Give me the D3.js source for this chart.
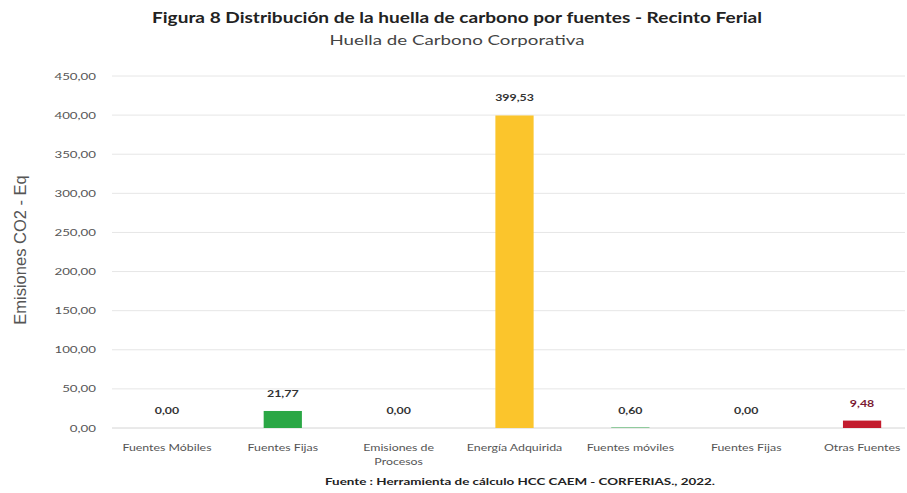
<!DOCTYPE html>
<html><head><meta charset="utf-8">
<script src="https://cdn.jsdelivr.net/npm/d3@7"></script>
<style>body{margin:0;background:#fff;}svg{display:block;}</style>
</head><body>
<svg id="c" width="907" height="493"></svg>
<script>
const categories = [["Fuentes Móbiles"],["Fuentes Fijas"],["Emisiones de","Procesos"],["Energía Adquirida"],["Fuentes móviles"],["Fuentes Fijas"],["Otras Fuentes"]];
const values = [0.00, 21.77, 0.00, 399.53, 0.60, 0.00, 9.48];
const barColors = ["#2aa745","#2aa745","#2aa745","#fbc52c","#2aa745","#2aa745","#c31c2e"];
const labelColors = ["#333","#333","#333","#333","#333","#333","#7a1a33"];
const yTicks = [0,50,100,150,200,250,300,350,400,450];

const svg = d3.select("#c");
const fmt = v => d3.format(".2f")(v).replace(".", ",");
const x = d3.scaleBand().domain(d3.range(values.length)).range([109, 920]).paddingInner(0.67).paddingOuter(0.335);
const y = d3.scaleLinear().domain([0,450]).range([428, 76]);

function stretch(sel, f){
  sel.each(function(){
    const w = this.getComputedTextLength();
    d3.select(this).attr("textLength", w*f).attr("lengthAdjust","spacingAndGlyphs");
  });
}

// gridlines
svg.append("g").selectAll("line").data(yTicks).join("line")
  .attr("x1",112).attr("x2",905).attr("y1",d=>y(d)).attr("y2",d=>y(d))
  .attr("stroke", d=> d===0 ? "#d4d4d4" : "#e6e6e6").attr("stroke-width",1);

// y axis tick labels
const yAxis = d3.axisLeft(y).tickValues(yTicks).tickFormat(fmt).tickSize(0).tickPadding(0);
const ga = svg.append("g").attr("transform","translate(96,0)").call(yAxis);
ga.select(".domain").remove();
ga.selectAll("text").attr("font-family","Lato, sans-serif").attr("font-size",9.5).attr("fill","#555");
stretch(ga.selectAll("text"), 1.4);

// bars
svg.append("g").selectAll("rect").data(values).join("rect")
  .attr("x",(d,i)=>x(i)).attr("width",x.bandwidth())
  .attr("y",d=>y(d)).attr("height",d=>y(0)-y(d))
  .attr("fill",(d,i)=>barColors[i]);

// value labels
const vl = svg.append("g").selectAll("text").data(values).join("text")
  .attr("x",(d,i)=>x(i)+x.bandwidth()/2).attr("y",d=>y(d)-14)
  .attr("text-anchor","middle").attr("font-family","Lato, sans-serif").attr("font-size",9.5)
  .attr("font-weight","bold").attr("fill",(d,i)=>labelColors[i]).text(fmt);
stretch(vl, 1.3);

// category labels
const xAxis = d3.axisBottom(x).tickSize(0).tickFormat("");
const gx = svg.append("g").attr("transform","translate(0,428)").call(xAxis);
gx.select(".domain").remove();
gx.selectAll(".tick").each(function(d){
  const t = d3.select(this).append("text").attr("text-anchor","middle")
    .attr("font-family","Lato, sans-serif").attr("font-size",9.5).attr("fill","#555").attr("y",23);
  categories[d].forEach((s,k)=>t.append("tspan").attr("x",0).attr("dy",k?14:0).text(s));
});
stretch(gx.selectAll("tspan"), 1.3);

// titles
const t1 = svg.append("text").attr("x",457).attr("y",23).attr("text-anchor","middle")
  .attr("font-family","Lato, sans-serif").attr("font-weight","bold").attr("font-size",16).attr("fill","#222")
  .text("Figura 8 Distribución de la huella de carbono por fuentes - Recinto Ferial");
stretch(t1, 610/ t1.node().getComputedTextLength() );
const t2 = svg.append("text").attr("x",457).attr("y",45).attr("text-anchor","middle")
  .attr("font-family","Lato, sans-serif").attr("font-size",13).attr("fill","#444")
  .text("Huella de Carbono Corporativa");
stretch(t2, 255/ t2.node().getComputedTextLength());
svg.append("text").attr("transform","translate(26,250) rotate(-90)").attr("text-anchor","middle")
  .attr("font-family","Liberation Sans, Arial, sans-serif").attr("font-size",16.5).attr("fill","#555")
  .text("Emisiones CO2 - Eq");
const t3 = svg.append("text").attr("x",520).attr("y",485).attr("text-anchor","middle")
  .attr("font-family","Lato, sans-serif").attr("font-weight","bold").attr("font-size",10).attr("fill","#222")
  .text("Fuente : Herramienta de cálculo HCC CAEM - CORFERIAS., 2022.");
stretch(t3, 390/ t3.node().getComputedTextLength());
</script>
</body></html>
